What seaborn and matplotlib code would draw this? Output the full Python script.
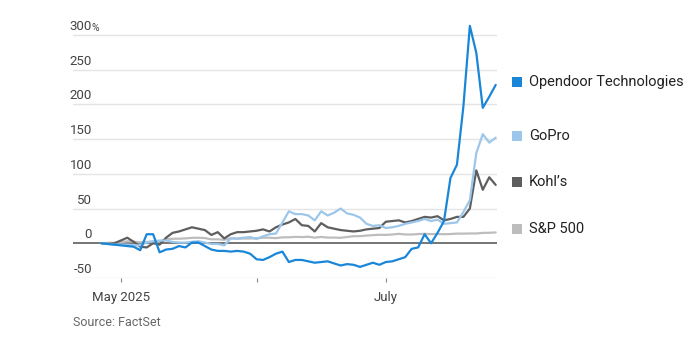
import numpy as np
import pandas as pd
import matplotlib
matplotlib.use("Agg")
import matplotlib.pyplot as plt
from matplotlib.patches import Rectangle
import seaborn as sns

# ---- data (percent change since start) ----
holidays = ["2025-05-26", "2025-06-19", "2025-07-04"]
dates = [d for d in pd.bdate_range("2025-04-28", "2025-07-25") if d.strftime("%Y-%m-%d") not in holidays]

opendoor = [0, -1, -2, -3, -4, -5, -10, 13, 13, -13,
            -9, -8, -4, -6, 1, 1, -4, -9, -11, -11,
            -12, -11, -12, -15, -23, -24, -20, -15, -12, -27,
            -24, -24, -26, -28, -27, -26, -29, -32, -30, -31,
            -34, -31, -28, -31, -27, -26, -23, -20, -8, -6,
            13, 0, 15, 32, 94, 113, 197, 313, 274, 195,
            211, 228]
gopro = [0, -1, -2, -2, -2, -3, -3, 1, 3, 4,
         4, 2, 1, 1, 2, 3, 1, -1, -1, -3,
         7, 7, 8, 9, 6, 10, 13, 14, 30, 46,
         42, 42, 40, 33, 46, 40, 44, 50, 43, 41,
         37, 28, 25, 26, 22, 23, 25, 28, 30, 32,
         35, 32, 34, 28, 29, 30, 45, 62, 130, 157,
         145, 152]
kohls = [0, -1, 0, 4, 8, 2, -5, -6, 0, -2,
         8, 15, 17, 20, 23, 21, 19, 12, 16, 7,
         13, 16, 16, 17, 18, 20, 17, 23, 27, 30,
         35, 26, 25, 17, 29, 23, 21, 19, 18, 17,
         18, 20, 21, 22, 31, 32, 33, 30, 32, 35,
         38, 37, 39, 33, 35, 38, 38, 50, 105, 77,
         95, 84]
sp500 = [0, 0.6, 0.7, 1.4, 2.9, 2.2, 1.4, 1.9, 2.5, 2.4,
         5.7, 6.5, 6.6, 7.0, 7.8, 7.9, 7.5, 5.7, 5.7, 5.0,
         7.1, 6.5, 6.9, 6.9, 7.4, 8.0, 8.0, 7.4, 8.5, 8.6,
         9.2, 8.9, 9.4, 8.1, 9.1, 8.2, 8.2, 7.9, 9.0, 10.2,
         10.2, 11.1, 11.7, 12.2, 12.1, 12.6, 13.6, 12.7, 12.6, 13.3,
         13.6, 13.2, 13.4, 13.0, 13.3, 13.9, 13.9, 14.1, 14.1, 15.0,
         15.1, 15.6]

series_names = ["Opendoor Technologies", "GoPro", "Kohl\u2019s", "S&P 500"]
series_values = [opendoor, gopro, kohls, sp500]
series_colors = ["#1a86d8", "#9cc7ea", "#5e5e5e", "#bdbdbd"]
y_ticks = [-50, 0, 50, 100, 150, 200, 250, 300]
x_tick_labels = ["May 2025", "", "July"]

# ---- frame ----
rows = []
for name, vals in zip(series_names, series_values):
    for i, (d, v) in enumerate(zip(dates, vals)):
        rows.append({"idx": i, "date": d, "series": name, "value": v})
df = pd.DataFrame(rows)

sns.set_theme(style="white")
plt.rcParams["font.family"] = ["Roboto", "DejaVu Sans"]

fig = plt.figure(figsize=(7.0, 3.38), dpi=100)
W, H = 700, 338
ax_left, ax_right, ax_top, ax_bottom = 73, 497, 21, 278
ax = fig.add_axes([ax_left / W, 1 - ax_bottom / H, (ax_right - ax_left) / W, (ax_bottom - ax_top) / H])

# gridlines
for t in y_ticks:
    if t == 0:
        continue
    ax.axhline(t, color="#e4e4e4", lw=1.0, zorder=0)

palette = dict(zip(series_names, series_colors))
draw_order = ["S&P 500", "Kohl\u2019s", "GoPro", "Opendoor Technologies"]
for k, name in enumerate(draw_order):
    sub = df[df["series"] == name]
    sns.lineplot(data=sub, x="idx", y="value", color=palette[name], lw=1.6,
                 ax=ax, legend=False, zorder=3 + k)

ax.axhline(0, color="#6a6a6a", lw=1.3, zorder=2)

ax.set_xlim(-4.4, 61.2)
ax.set_ylim(-50, 320)
for s in ax.spines.values():
    s.set_visible(False)
ax.set_xlabel("")
ax.set_ylabel("")
ax.set_yticks([])

# x ticks at first trading day of May, June, July
month_first = []
for m in [5, 6, 7]:
    month_first.append(next(i for i, d in enumerate(dates) if d.month == m))
ax.set_xticks(month_first)
ax.set_xticklabels(x_tick_labels, fontsize=9.5, color="#444444")
ax.tick_params(axis="x", length=3, width=0.8, color="#888888", pad=6, bottom=True)

# y tick labels drawn above gridlines, inside plot area
for t in y_ticks:
    lab = "-50" if t < 0 else str(t)
    ax.annotate(lab, xy=(0, t), xycoords=("axes fraction", "data"),
                xytext=(19, 2), textcoords="offset pixels", ha="right", va="bottom",
                fontsize=9.5, color="#444444")
    if t == 300:
        ax.annotate("%", xy=(0, t), xycoords=("axes fraction", "data"),
                    xytext=(18, 2), textcoords="offset pixels", ha="left", va="bottom",
                    fontsize=7.5, color="#444444")

# legend on the right
leg_y = [82, 136, 182, 229]
for name, color, yy in zip(series_names, series_colors, leg_y):
    sq = 9.5
    fig.patches.append(Rectangle((512 / W, 1 - (yy + sq / 2) / H), sq / W, sq / H,
                                 transform=fig.transFigure, facecolor=color,
                                 edgecolor="none"))
    fig.text(529 / W, 1 - yy / H, name, fontsize=10.5, color="#222222",
             ha="left", va="center")

fig.text(73 / W, 1 - 322 / H, "Source: FactSet", fontsize=9, color="#666666",
         ha="left", va="center")

fig.savefig("out.png", dpi=100)
